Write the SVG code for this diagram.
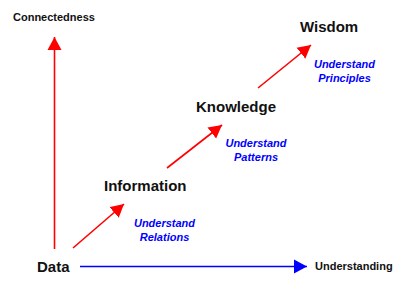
<svg xmlns="http://www.w3.org/2000/svg" width="400" height="284" viewBox="0 0 400 284">
<style>
.lbl{font-family:"Liberation Sans",Arial,sans-serif;font-weight:bold;fill:#111}
.big{font-size:15px}
.sm{font-size:11px}
.sub{font-family:"Liberation Sans",Arial,sans-serif;font-weight:bold;font-style:italic;font-size:11px;fill:#0000ff;text-anchor:middle}
.red{stroke:#ff0000;stroke-width:1.6;fill:none}
.blue{stroke:#0000ff;stroke-width:1.6;fill:none}
</style>
<defs>
<marker id="ar" markerUnits="userSpaceOnUse" markerWidth="14" markerHeight="15" refX="13" refY="7" orient="auto" viewBox="0 0 14 14">
<path d="M0,0 L13,7 L0,14 Z" fill="#ff0000"/>
</marker>
<marker id="ab" markerUnits="userSpaceOnUse" markerWidth="14" markerHeight="15" refX="13" refY="7" orient="auto" viewBox="0 0 14 14">
<path d="M0,0 L13,7 L0,14 Z" fill="#0000ff"/>
</marker>
</defs>
<rect width="400" height="284" fill="#fff"/>
<g id="connectors">
<line class="red" x1="54.5" y1="249" x2="54.5" y2="37" marker-end="url(#ar)"/>
<line class="blue" x1="80" y1="266.5" x2="307" y2="266.5" marker-end="url(#ab)"/>
<line class="red" x1="73" y1="248" x2="124" y2="204" marker-end="url(#ar)"/>
<line class="red" x1="167" y1="168" x2="222" y2="125" marker-end="url(#ar)"/>
<line class="red" x1="258" y1="88" x2="311" y2="45" marker-end="url(#ar)"/>
</g>
<g id="connectedness"><text class="lbl sm" x="13" y="21">Connectedness</text></g>
<g id="understanding"><text class="lbl sm" x="315" y="270">Understanding</text></g>
<g id="data"><text class="lbl big" x="37" y="272">Data</text></g>
<g id="information"><text class="lbl big" x="104" y="191">Information</text>
<text class="sub" x="164.5" y="227">Understand</text><text class="sub" x="164.5" y="241">Relations</text></g>
<g id="knowledge"><text class="lbl big" x="196" y="112">Knowledge</text>
<text class="sub" x="256" y="147">Understand</text><text class="sub" x="256" y="161">Patterns</text></g>
<g id="wisdom"><text class="lbl big" x="300" y="32">Wisdom</text>
<text class="sub" x="344.5" y="68">Understand</text><text class="sub" x="344.5" y="82">Principles</text></g>
</svg>
